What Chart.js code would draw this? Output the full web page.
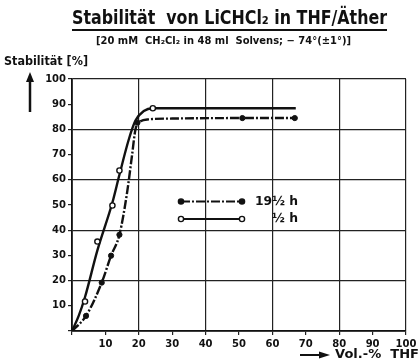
<!DOCTYPE html>
<html>
<head>
<meta charset="utf-8">
<script src="https://cdn.jsdelivr.net/npm/chart.js@4/dist/chart.umd.min.js"></script>
<style>
  html, body { margin: 0; padding: 0; background: #fff; }
  #wrap { position: relative; width: 420px; height: 363px; }
</style>
</head>
<body>
<div id="wrap"><canvas id="chart" width="420" height="363"></canvas></div>
<script>
'use strict';

// =========================================
// DATA
// =========================================
var xTicks = [10, 20, 30, 40, 50, 60, 70, 80, 90, 100];
var yTicks = [10, 20, 30, 40, 50, 60, 70, 80, 90, 100];

// 19½ h  (filled markers, dash-dot curve)
var longX = [4.2, 8.9, 11.7, 14.2, 19.6, 51, 66.7];
var longY = [6.0, 19.2, 29.9, 38.2, 82.7, 84.5, 84.5];
var longCurveX = [0, 4.2, 8.9, 11.7, 14.2, 16.5, 18, 19, 20.5, 23, 30, 51, 66.7];
var longCurveY = [0, 6.0, 19.2, 29.9, 38.2, 55, 70, 80, 83.2, 84, 84.3, 84.5, 84.5];

// ½ h  (open markers, solid curve)
var shortX = [3.9, 7.6, 12.1, 14.2, 24.2];
var shortY = [11.7, 35.5, 49.8, 63.7, 88.4];
var shortCurveX = [0, 2, 3.9, 7.6, 12.1, 14.2, 17, 19, 21.5, 24.2, 67];
var shortCurveY = [0, 6, 13.5, 32, 51, 62, 76, 83.5, 87.3, 88.4, 88.4];

var legendLabels = ['19½ h', '½ h'];

function toPoints(xs, ys) {
    return xs.map(function(x, i) { return { x: x, y: ys[i] }; });
}

// =========================================
// TEXT HELPERS
// =========================================
var FONT = '"DejaVu Sans", "Liberation Sans", sans-serif';

function fitText(ctx, text, x, y, w, size) {
    ctx.save();
    ctx.font = 'bold ' + size + 'px ' + FONT;
    ctx.textBaseline = 'middle';
    ctx.textAlign = 'left';
    var m = ctx.measureText(text).width;
    ctx.translate(x, y);
    ctx.scale(w / m, 1);
    ctx.fillText(text, 0, 0);
    ctx.restore();
}

function arrowUp(ctx, x, yTop, yBot) {
    ctx.beginPath();
    ctx.moveTo(x, yBot);
    ctx.lineTo(x, yTop + 8);
    ctx.stroke();
    ctx.beginPath();
    ctx.moveTo(x, yTop);
    ctx.lineTo(x - 4, yTop + 10);
    ctx.lineTo(x + 4, yTop + 10);
    ctx.closePath();
    ctx.fill();
}

function arrowRight(ctx, xLeft, xRight, y) {
    ctx.beginPath();
    ctx.moveTo(xLeft, y);
    ctx.lineTo(xRight - 8, y);
    ctx.stroke();
    ctx.beginPath();
    ctx.moveTo(xRight, y);
    ctx.lineTo(xRight - 11, y - 3.5);
    ctx.lineTo(xRight - 11, y + 3.5);
    ctx.closePath();
    ctx.fill();
}

// =========================================
// ANNOTATION PLUGIN (titles, arrows, legend)
// =========================================
var annotations = {
    id: 'annotations',
    afterDraw: function(chart) {
        var ctx = chart.ctx;
        ctx.save();
        ctx.fillStyle = '#111';
        ctx.strokeStyle = '#111';

        // title + underline
        fitText(ctx, 'Stabilität  von LiCHCl₂ in THF/Äther', 72, 19, 315, 19);
        ctx.lineWidth = 2;
        ctx.beginPath();
        ctx.moveTo(72, 30);
        ctx.lineTo(387, 30);
        ctx.stroke();

        // subtitle
        fitText(ctx, '[20 mM  CH₂Cl₂ in 48 ml  Solvens; − 74°(±1°)]', 96, 41, 255, 10);

        // y axis title + arrow
        fitText(ctx, 'Stabilität [%]', 4, 62, 84, 13);
        ctx.lineWidth = 2.5;
        arrowUp(ctx, 30, 72, 112);

        // x axis title + arrow
        ctx.lineWidth = 2;
        arrowRight(ctx, 300, 330, 355);
        fitText(ctx, 'Vol.-%  THF', 335, 355, 84, 13);

        // legend
        var rows = [
            { y: 201.5, dash: [9, 2, 2, 2], fill: '#111', label: legendLabels[0], lx: 255 },
            { y: 219, dash: [], fill: '#fff', label: legendLabels[1], lx: 272 }
        ];
        rows.forEach(function(r) {
            ctx.lineWidth = 2;
            ctx.setLineDash(r.dash);
            ctx.beginPath();
            ctx.moveTo(181, r.y);
            ctx.lineTo(242, r.y);
            ctx.stroke();
            ctx.setLineDash([]);
            [181, 242].forEach(function(px) {
                ctx.beginPath();
                ctx.arc(px, r.y, 2.6, 0, Math.PI * 2);
                ctx.fillStyle = r.fill;
                ctx.fill();
                ctx.lineWidth = 1.4;
                ctx.stroke();
            });
            ctx.fillStyle = '#111';
            fitText(ctx, r.label, r.lx, r.y, 298 - r.lx, 13);
        });

        ctx.restore();
    }
};

// =========================================
// CHART
// =========================================
var gridColor = function(c) {
    return c.tick && c.tick.value % 20 === 0 ? '#222' : 'rgba(0,0,0,0)';
};

var curveStyle = {
    borderColor: '#111',
    borderWidth: 2.4,
    cubicInterpolationMode: 'monotone',
    pointRadius: 0,
    order: 2
};

new Chart(document.getElementById('chart'), {
    type: 'line',
    data: {
        datasets: [
            Object.assign({ label: legendLabels[0] + ' curve', data: toPoints(longCurveX, longCurveY), borderDash: [9, 2, 2, 2] }, curveStyle),
            Object.assign({ label: legendLabels[1] + ' curve', data: toPoints(shortCurveX, shortCurveY) }, curveStyle),
            {
                label: legendLabels[0],
                data: toPoints(longX, longY),
                showLine: false,
                pointRadius: 2.6,
                pointBackgroundColor: '#111',
                pointBorderColor: '#111',
                pointBorderWidth: 1,
                order: 1
            }, {
                label: legendLabels[1],
                data: toPoints(shortX, shortY),
                showLine: false,
                pointRadius: 2.6,
                pointBackgroundColor: '#fff',
                pointBorderColor: '#111',
                pointBorderWidth: 1.4,
                order: 1
            }
        ]
    },
    options: {
        responsive: false,
        animation: false,
        events: [],
        layout: { padding: { left: 0, right: 14, top: 79, bottom: 0 } },
        plugins: {
            legend: { display: false },
            tooltip: { enabled: false }
        },
        scales: {
            x: {
                type: 'linear',
                min: 0,
                max: 100,
                afterBuildTicks: function(s) {
                    s.ticks = [{ value: 0 }].concat(xTicks.map(function(v) { return { value: v }; }));
                },
                afterFit: function(s) { s.height = 32; },
                ticks: {
                    color: '#111',
                    padding: 3,
                    maxRotation: 0,
                    font: { family: FONT, size: 10, weight: 'bold' },
                    callback: function(v) { return v === 0 ? '' : v; }
                },
                grid: { color: gridColor, tickColor: '#222', tickLength: 4, lineWidth: 1.2 },
                border: { color: '#111', width: 1.8 }
            },
            y: {
                min: 0,
                max: 100,
                afterBuildTicks: function(s) {
                    s.ticks = [{ value: 0 }].concat(yTicks.map(function(v) { return { value: v }; }));
                },
                afterFit: function(s) { s.width = 72; },
                ticks: {
                    color: '#111',
                    padding: 2,
                    font: { family: FONT, size: 10, weight: 'bold' },
                    callback: function(v) { return v === 0 ? '' : v; }
                },
                grid: { color: gridColor, tickColor: '#222', tickLength: 4, lineWidth: 1.2 },
                border: { color: '#111', width: 1.8 }
            }
        }
    },
    plugins: [annotations]
});
</script>
</body>
</html>
